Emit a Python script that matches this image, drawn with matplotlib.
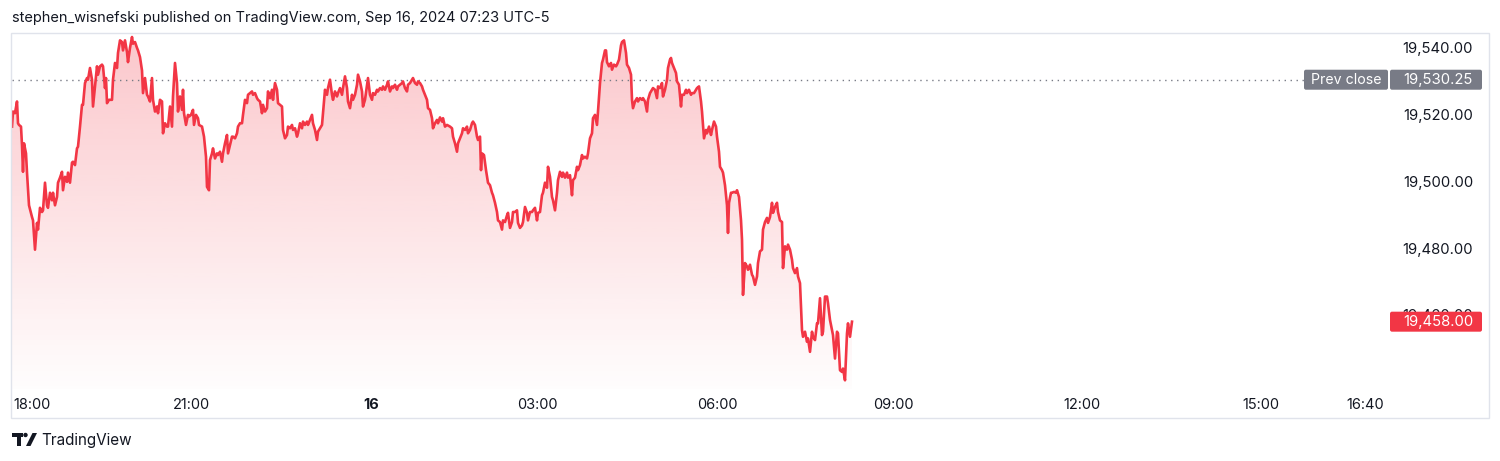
import numpy as np
import matplotlib.pyplot as plt
from matplotlib.patches import Rectangle, FancyBboxPatch, Polygon, Circle
from matplotlib.transforms import IdentityTransform

plt.rcParams['font.family'] = ['Inter', 'DejaVu Sans']

# minutes since the 18:00 session open (as laid out on the time axis)
minutes = [
    0, 1, 3, 5, 6, 7, 9, 10, 11, 12,
    14, 15, 17, 20, 21, 23, 25, 26, 28, 30,
    31, 33, 35, 36, 38, 40, 41, 43, 45, 46,
    48, 50, 51, 53, 55, 56, 58, 60, 61, 63,
    65, 66, 68, 70, 71, 73, 75, 76, 78, 80,
    81, 83, 85, 86, 88, 90, 91, 93, 94, 95,
    97, 100, 101, 103, 105, 106, 108, 110, 111, 113,
    115, 116, 118, 120, 121, 123, 125, 126, 128, 130,
    131, 133, 135, 136, 138, 140, 141, 143, 145, 146,
    148, 150, 151, 153, 155, 156, 158, 160, 161, 163,
    165, 166, 168, 170, 171, 172, 174, 176, 177, 179,
    181, 182, 184, 186, 187, 190, 192, 194, 195, 197,
    198, 200, 201, 203, 205, 206, 208, 210, 211, 213,
    215, 216, 218, 220, 221, 223, 225, 226, 228, 230,
    231, 233, 235, 236, 238, 240, 241, 243, 245, 246,
    248, 250, 251, 253, 255, 256, 258, 260, 261, 263,
    265, 266, 268, 270, 271, 273, 275, 276, 278, 280,
    281, 283, 285, 286, 288, 290, 291, 293, 295, 296,
    298, 300, 301, 303, 305, 306, 308, 310, 311, 313,
    315, 316, 318, 320, 321, 323, 325, 326, 328, 330,
    331, 333, 335, 336, 338, 340, 341, 343, 345, 346,
    348, 350, 351, 353, 355, 356, 358, 360, 361, 363,
    365, 366, 368, 370, 371, 373, 375, 376, 378, 380,
    381, 383, 385, 386, 388, 390, 391, 393, 395, 396,
    398, 400, 401, 403, 405, 406, 408, 410, 411, 413,
    415, 416, 418, 420, 421, 423, 425, 426, 428, 430,
    431, 433, 435, 438, 440, 441, 443, 445, 446, 448,
    450, 451, 453, 455, 456, 458, 460, 461, 463, 465,
    466, 468, 469, 470, 472, 474, 476, 478, 480, 481,
    483, 485, 486, 488, 490, 491, 493, 495, 496, 498,
    500, 501, 503, 505, 506, 508, 510, 511, 513, 515,
    516, 518, 520, 521, 523, 525, 526, 528, 530, 531,
    533, 535, 536, 538, 540, 541, 543, 545, 546, 548,
    550, 551, 553, 555, 556, 558, 560, 561, 563, 565,
    566, 568, 570, 571, 573, 575, 576, 578, 580, 581,
    583, 585, 586, 588, 590, 591, 593, 594, 595, 597,
    599, 600, 602, 604, 605, 607, 609, 610, 612, 614,
    615, 617, 619, 620, 621, 623, 625, 626, 628, 630,
    631, 633, 635, 636, 638, 640, 641, 643, 645, 646,
    648, 650, 651, 653, 655, 656, 658, 659, 660, 662,
    664, 665, 667, 669, 670, 672, 674, 675, 677, 679,
    680, 682, 684, 685, 687, 689, 690, 692, 694, 695,
    697, 699, 700, 702, 704, 705, 707, 708, 710, 711,
    713, 715, 716, 717, 719, 720, 722, 724, 725, 727,
    729, 730, 731, 733, 735, 736, 738, 740, 741, 743,
    745, 746, 748, 750, 751, 753, 755, 756, 758, 760,
    761, 763, 765, 766, 768, 770, 771, 773, 775, 776,
    778, 780, 781, 783, 785, 786, 788, 790, 791, 793,
    795, 796, 798, 800, 801, 803, 805, 806, 808, 810,
    811, 813, 815, 816, 818, 820, 821, 823, 825, 826,
    828, 830, 831, 833, 835, 836, 838, 840,
]

prices = [
    19516.25, 19520.75, 19520.25, 19523.75, 19517.25, 19516.75, 19516.25, 19510.75, 19502.75, 19511.25,
    19508.25, 19502.5, 19492.75, 19489.25, 19488.25, 19479.5, 19487.5, 19485.5, 19492, 19490.75,
    19491.25, 19499.5, 19492.75, 19492, 19496.5, 19494.25, 19496.5, 19492.75, 19495.25, 19499.5,
    19501, 19502.75, 19497.25, 19501.25, 19499.75, 19502.5, 19499.5, 19505.5, 19505.75, 19504.75,
    19509.75, 19510.25, 19516.25, 19522.75, 19522.75, 19529.25, 19530.75, 19530.25, 19533.75, 19530.25,
    19522.25, 19528.25, 19534.25, 19531.75, 19534.25, 19534.75, 19534.25, 19527.75, 19530.75, 19523.25,
    19524.25, 19524.25, 19530.25, 19535.25, 19533.75, 19538.25, 19542, 19541.5, 19539, 19542,
    19538.5, 19535.5, 19539.75, 19543, 19541, 19541.5, 19539.75, 19539, 19537, 19533,
    19526.25, 19530.75, 19525.75, 19525.25, 19523.75, 19530.75, 19524.25, 19520.75, 19522.25, 19520.25,
    19524.25, 19523.75, 19514.25, 19517.25, 19516.25, 19516.25, 19522.25, 19516.25, 19525.25, 19535.25,
    19529.25, 19520.75, 19525.25, 19521.25, 19527.25, 19520.25, 19516.75, 19519.75, 19519.25, 19519.75,
    19521.25, 19516.75, 19519.75, 19518.75, 19516.75, 19516.25, 19513.25, 19507.25, 19498.25, 19497.25,
    19506.25, 19508.25, 19509.75, 19506.75, 19508.25, 19507.75, 19508.75, 19505.75, 19508.25, 19511.25,
    19513.75, 19508.25, 19510.75, 19513.25, 19513.25, 19512.75, 19514.25, 19516.25, 19517.25, 19517.25,
    19519.75, 19524.25, 19523.25, 19525.75, 19526.25, 19526.75, 19525.75, 19526.25, 19524.75, 19524.25,
    19523.75, 19520.25, 19522.75, 19520.75, 19521.75, 19526.75, 19524.75, 19527.25, 19524.25, 19529.25,
    19527.25, 19523.25, 19522.75, 19522.25, 19515.25, 19512.75, 19513.75, 19516.25, 19515.75, 19516.75,
    19515.25, 19515.75, 19513.25, 19514.25, 19517.25, 19515.75, 19517.75, 19516.75, 19517.75, 19516.75,
    19518.25, 19519.75, 19517.25, 19515.25, 19512.25, 19514.75, 19515.75, 19516.75, 19520.25, 19527.25,
    19525.75, 19527.75, 19530.25, 19525.75, 19524.25, 19526.75, 19525.25, 19526.25, 19527.75, 19525.75,
    19527.75, 19531.25, 19527.75, 19523.75, 19521.75, 19525.75, 19524.25, 19525.75, 19528.75, 19531.75,
    19529.75, 19526.75, 19522.25, 19524.25, 19528.75, 19530.75, 19525.75, 19524.25, 19526.25, 19525.75,
    19527.25, 19526.75, 19527.75, 19527.25, 19528.25, 19527.25, 19528.75, 19529.75, 19526.75, 19528.25,
    19527.75, 19528.75, 19527.25, 19528.25, 19528.75, 19529.25, 19529.75, 19527.75, 19526.75, 19528.75,
    19529.25, 19530.25, 19530.75, 19529.25, 19528.75, 19529.75, 19529.25, 19528.25, 19527.25, 19525.75,
    19524.25, 19521.75, 19521.25, 19518.75, 19515.75, 19517.25, 19518.25, 19517.25, 19519, 19517.75,
    19518.75, 19516.25, 19516.75, 19516.25, 19515.75, 19513.25, 19511.25, 19508.75, 19511.25, 19512.75,
    19514.25, 19515.75, 19515.25, 19516.25, 19514.25, 19515.25, 19517.25, 19517.75, 19516.75, 19513.25,
    19512.25, 19513.25, 19503.25, 19508.25, 19507.75, 19503.25, 19499.5, 19498.75, 19496.5, 19495.75,
    19493.5, 19490.75, 19488.25, 19487.75, 19485.5, 19488.25, 19487.75, 19489.75, 19490.5, 19486,
    19487.75, 19490.75, 19490.75, 19491.25, 19487.5, 19486, 19486.75, 19487.75, 19492.25, 19490.5,
    19488.25, 19490.75, 19490.75, 19491.25, 19492, 19488.25, 19490.5, 19490.75, 19495.75, 19496.5,
    19499.5, 19498, 19504.25, 19501.25, 19495.25, 19494.25, 19491.25, 19496.5, 19500.25, 19502.75,
    19501.25, 19502.5, 19501, 19502.5, 19501, 19501.75, 19495.75, 19500.25, 19501, 19504.25,
    19503.25, 19504.75, 19507.75, 19506.75, 19507.25, 19506.75, 19508.25, 19512.75, 19514.25, 19518.75,
    19519.75, 19516.75, 19520.75, 19529.25, 19535.25, 19536.25, 19539, 19539, 19535.5, 19534.25,
    19535.25, 19533.25, 19534.75, 19534.25, 19534.75, 19536.25, 19540.5, 19541.5, 19542, 19538.25,
    19534.75, 19533.75, 19531.75, 19524.25, 19521.75, 19523.75, 19524.75, 19523.75, 19524.75, 19524.25,
    19524.75, 19523.75, 19520.75, 19524.25, 19526.25, 19527.25, 19527.75, 19527.25, 19524.75, 19528.25,
    19527.75, 19529.25, 19525.25, 19527.25, 19530.25, 19533.75, 19536.25, 19536.75, 19535.25, 19533.75,
    19532.25, 19529.75, 19528.75, 19522.25, 19525.75, 19525.75, 19527.25, 19526.25, 19527.25, 19525.75,
    19526.25, 19526.25, 19527.25, 19527.75, 19528.25, 19523.75, 19520.75, 19512.75, 19515.25, 19514.25,
    19516.25, 19513.75, 19515.25, 19517.75, 19516.25, 19513.25, 19508.75, 19504.25, 19503.25, 19502.5,
    19498.75, 19492.75, 19484.5, 19493.5, 19496.5, 19496.5, 19496.75, 19496.5, 19497.25, 19495.25,
    19488.25, 19482.5, 19466, 19475.5, 19474.5, 19473.5, 19475, 19472, 19471.5, 19469,
    19471.5, 19475.5, 19479, 19479.5, 19485.5, 19487.75, 19489, 19487.5, 19489.25, 19493.5,
    19490.5, 19492.25, 19493.5, 19490.75, 19488.25, 19487.75, 19474, 19480.5, 19479.5, 19481,
    19479.5, 19476.5, 19474, 19472.5, 19474, 19471.5, 19469.5, 19455.5, 19453.5, 19455,
    19452, 19453, 19449, 19455, 19453.5, 19452.5, 19457.5, 19457.5, 19465, 19454,
    19455, 19465.5, 19465.5, 19463.5, 19458.5, 19455.5, 19454, 19447, 19455, 19454.5,
    19443.5, 19443, 19444, 19440.5, 19454.5, 19457.5, 19453.5, 19458,
]

prev_close = 19530.25
last_price = 19458.00

price_ticks = [19540, 19520, 19500, 19480, 19460]
time_ticks = [20, 179, 359, 525, 705, 881, 1070, 1249, 1353]
time_labels = ['18:00', '21:00', '16', '03:00', '06:00', '09:00', '12:00', '15:00', '16:40']

header = 'stephen_wisnefski published on TradingView.com, Sep 16, 2024 07:23 UTC-5'

RED = '#f23645'
GREY = '#787b86'
TXT = '#131722'

W, H = 1500, 461
fig = plt.figure(figsize=(W / 100, H / 100), dpi=100)
fig.patch.set_facecolor('white')

# pane: pixel x 12..1390, y 34..389
ax = fig.add_axes([12 / W, (H - 389) / H, (1390 - 12) / W, (389 - 34) / H])
ylo, yhi = 19437.9, 19543.9
xmax = 1378

# gradient area under the line
verts = [(minutes[0], ylo)] + list(zip(minutes, prices)) + [(minutes[-1], ylo)]
clip = Polygon(verts, closed=True, facecolor='none', edgecolor='none')
ax.add_patch(clip)
grad = np.linspace(0, 1, 256).reshape(-1, 1)
rgba = np.zeros((256, 1, 4))
rgba[..., 0], rgba[..., 1], rgba[..., 2] = 242 / 255, 54 / 255, 69 / 255
rgba[..., 3] = 0.01 + 0.27 * grad[:, 0:1]
img = ax.imshow(rgba, extent=[0, xmax, ylo, yhi], origin='lower', aspect='auto', zorder=1,
                interpolation='bilinear')
img.set_clip_path(clip)

ax.plot(minutes, prices, color=RED, lw=1.9, solid_joinstyle='round', zorder=3)
ax.axhline(prev_close, color=GREY, lw=1, linestyle=(0, (1, 3.3)), zorder=2)

ax.set_xlim(0, xmax)
ax.set_ylim(ylo, yhi)
for s in ax.spines.values():
    s.set_visible(False)

ax.set_xticks(time_ticks)
ax.set_xticklabels(time_labels)
ax.tick_params(axis='x', length=0, pad=6.5, labelsize=10.5, labelcolor=TXT)
ax.get_xticklabels()[2].set_fontweight('bold')

ax.yaxis.tick_right()
ax.set_yticks(price_ticks)
ax.set_yticklabels([f'{v:,.2f}' for v in price_ticks])
ax.tick_params(axis='y', length=0, pad=59.8, labelsize=10.7, labelcolor=TXT)
for lbl in ax.get_yticklabels():
    lbl.set_horizontalalignment('right')

ident = IdentityTransform()

# outer frame
fig.add_artist(Rectangle((11, H - 418), 1478, 385, fill=False, edgecolor='#e0e3eb',
                         lw=1, transform=ident))

# prev close labels
yp = ax.transData.transform((0, prev_close))[1]
fig.add_artist(FancyBboxPatch((1304, yp - 10), 84, 20, boxstyle='round,pad=0,rounding_size=2',
                              facecolor=GREY, edgecolor='none', transform=ident, zorder=5))
fig.add_artist(FancyBboxPatch((1390, yp - 10), 92, 20, boxstyle='round,pad=0,rounding_size=2',
                              facecolor=GREY, edgecolor='none', transform=ident, zorder=5))
fig.text(1346, yp, 'Prev close', transform=ident, ha='center', va='center',
         color='white', fontsize=10.2, zorder=6)
fig.text(1473, yp, f'{prev_close:,.2f}', transform=ident, ha='right', va='center',
         color='white', fontsize=10.7, zorder=6)

# last price label
yl = ax.transData.transform((0, last_price))[1]
fig.add_artist(FancyBboxPatch((1390, yl - 10), 92, 20, boxstyle='round,pad=0,rounding_size=2',
                              facecolor=RED, edgecolor='none', transform=ident, zorder=5))
fig.text(1473, yl, f'{last_price:,.2f}', transform=ident, ha='right', va='center',
         color='white', fontsize=10.7, zorder=6)

# header
fig.text(12, H - 18, header, transform=ident, ha='left', va='center', color=TXT, fontsize=10.5)

# footer logo + name
fig.add_artist(Rectangle((12, H - 437), 11, 4, facecolor=TXT, edgecolor='none', transform=ident))
fig.add_artist(Rectangle((17, H - 446), 4, 13, facecolor=TXT, edgecolor='none', transform=ident))
fig.add_artist(Circle((25.5, H - 435), 2.2, facecolor=TXT, edgecolor='none', transform=ident))
fig.add_artist(Polygon([(26, H - 446), (30.5, H - 446), (37, H - 433), (32.5, H - 433)],
                       closed=True, facecolor=TXT, edgecolor='none', transform=ident))
fig.text(41, H - 440, 'TradingView', transform=ident, ha='left', va='center', color=TXT,
         fontsize=11)

fig.savefig('out.png', dpi=100, facecolor='white')
